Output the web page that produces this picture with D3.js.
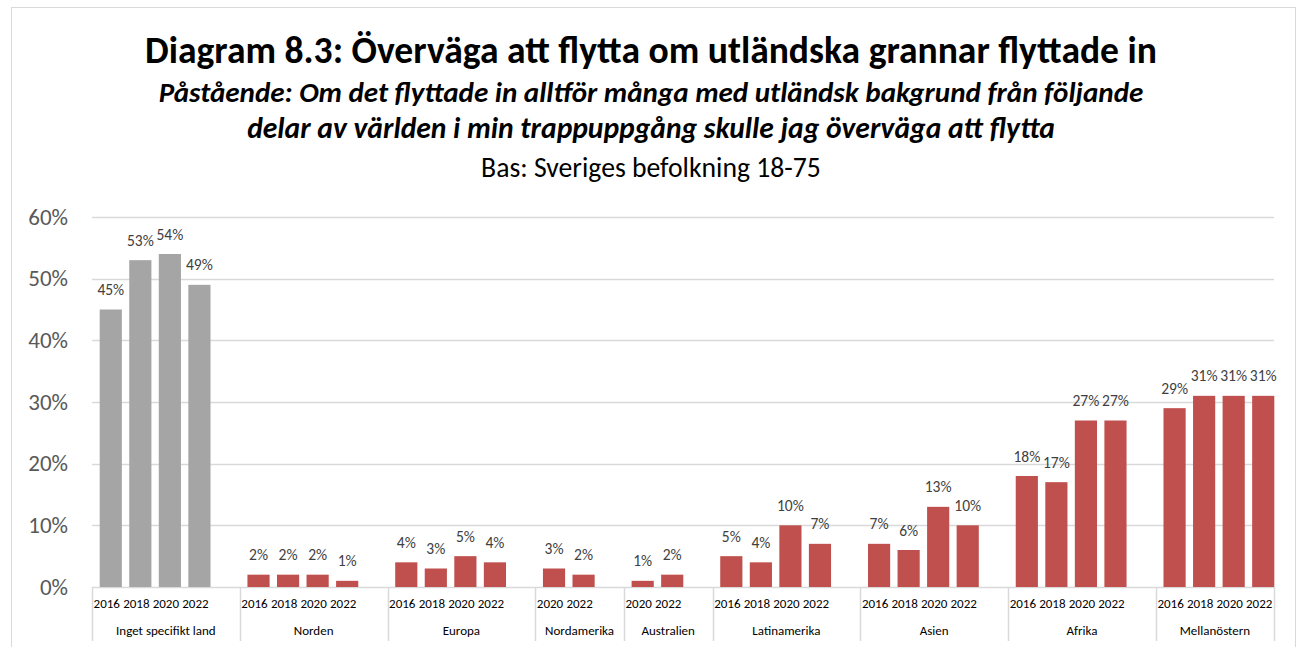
<!doctype html>
<html>
  <head>
    <meta charset="utf-8">
    <title>Diagram 8.3</title>
    <script type="text/javascript" src="https://cdn.jsdelivr.net/npm/d3@7"></script>
    <style>
      body { margin: 0; background: #fff; }
      text { font-family: Carlito, Calibri, Lato, sans-serif; }
    </style>
  </head>
  <body>
    <script>
      // data
      const groups = ['Inget specifikt land', 'Norden', 'Europa', 'Nordamerika', 'Australien',
                      'Latinamerika', 'Asien', 'Afrika', 'Mellanöstern'];
      const years = [
        ['2016', '2018', '2020', '2022'],
        ['2016', '2018', '2020', '2022'],
        ['2016', '2018', '2020', '2022'],
        ['2020', '2022'],
        ['2020', '2022'],
        ['2016', '2018', '2020', '2022'],
        ['2016', '2018', '2020', '2022'],
        ['2016', '2018', '2020', '2022'],
        ['2016', '2018', '2020', '2022']
      ];
      const values = [
        [45, 53, 54, 49],
        [2, 2, 2, 1],
        [4, 3, 5, 4],
        [3, 2],
        [1, 2],
        [5, 4, 10, 7],
        [7, 6, 13, 10],
        [18, 17, 27, 27],
        [29, 31, 31, 31]
      ];
      const yTicks = [0, 10, 20, 30, 40, 50, 60];

      const titleLines = [
        { text: 'Diagram 8.3: Överväga att flytta om utländska grannar flyttade in', y: 63, width: 1012, weight: 'bold', style: 'normal' },
        { text: 'Påstående: Om det flyttade in alltför många med utländsk bakgrund från följande', y: 102, width: 985, weight: 'bold', style: 'italic' },
        { text: 'delar av världen i min trappuppgång skulle jag överväga att flytta', y: 138, width: 808, weight: 'bold', style: 'italic' },
        { text: 'Bas: Sveriges befolkning 18-75', y: 177, width: 340, weight: 'normal', style: 'normal' }
      ];

      const svgWidth = 1303;
      const svgHeight = 647;
      const plotLeft = 92, plotRight = 1274, plotTop = 217, plotBottom = 587;
      const barShift = 4;

      const svg = d3.select('body').append('svg')
          .attr('width', svgWidth)
          .attr('height', svgHeight);

      // outer frame
      svg.append('rect')
          .attr('x', 11.5).attr('y', 7.5)
          .attr('width', 1284).attr('height', 700)
          .attr('fill', 'none')
          .attr('stroke', '#d9d9d9');

      // titles, sized to the width they take in the original
      titleLines.forEach(t => {
        const el = svg.append('text')
            .attr('x', 651).attr('y', t.y)
            .attr('text-anchor', 'middle')
            .attr('font-weight', t.weight)
            .attr('font-style', t.style)
            .attr('font-size', 30)
            .attr('fill', '#000')
            .text(t.text);
        const w = el.node().getComputedTextLength();
        el.attr('font-size', 30 * t.width / w);
      });

      // one slot per bar, and an empty slot after every group but the last
      const slots = [];
      groups.forEach((g, i) => {
        years[i].forEach(y => slots.push(i + '-' + y));
        if (i < groups.length - 1) slots.push(i + '-blank');
      });

      const xScale = d3.scaleBand()
          .domain(slots)
          .range([plotLeft, plotRight])
          .paddingInner(0.25)
          .paddingOuter(0.125);

      const yScale = d3.scaleLinear()
          .domain([0, 60])
          .range([plotBottom, plotTop]);

      const step = xScale.step();
      const slotStart = k => xScale(k) - step * 0.125;
      const slotCenter = k => xScale(k) + xScale.bandwidth() / 2;

      // gridlines
      svg.append('g')
        .selectAll('line')
        .data(yTicks)
        .enter().append('line')
          .attr('x1', plotLeft).attr('x2', plotRight)
          .attr('y1', d => Math.round(yScale(d)) + 0.5)
          .attr('y2', d => Math.round(yScale(d)) + 0.5)
          .attr('stroke', '#d9d9d9')
          .attr('stroke-width', 1.5);

      // y labels
      svg.append('g')
        .selectAll('text')
        .data(yTicks)
        .enter().append('text')
          .attr('x', 68)
          .attr('y', d => yScale(d) + 7.5)
          .attr('text-anchor', 'end')
          .attr('font-size', 23)
          .attr('fill', '#595959')
          .text(d => d + '%');

      // bars
      const bars = [];
      groups.forEach((g, i) => {
        years[i].forEach((y, j) => bars.push({ key: i + '-' + y, value: values[i][j], group: i }));
      });

      svg.append('g')
        .selectAll('rect')
        .data(bars)
        .enter().append('rect')
          .attr('x', d => xScale(d.key) + barShift)
          .attr('y', d => yScale(d.value))
          .attr('width', xScale.bandwidth())
          .attr('height', d => yScale(0) - yScale(d.value))
          .attr('fill', d => d.group === 0 ? '#a5a5a5' : '#c0504d');

      svg.append('g')
        .selectAll('text')
        .data(bars)
        .enter().append('text')
          .attr('x', d => slotCenter(d.key) + barShift)
          .attr('y', d => yScale(d.value) - 14.5)
          .attr('text-anchor', 'middle')
          .attr('font-size', 15.5)
          .attr('fill', '#404040')
          .text(d => d.value + '%');

      // category axis
      const axis = svg.append('g');
      const boundaries = groups.map((g, i) => slotStart(i + '-' + years[i][0]));
      boundaries.push(plotRight);

      axis.selectAll('line')
        .data(boundaries)
        .enter().append('line')
          .attr('x1', d => Math.round(d) + 0.5).attr('x2', d => Math.round(d) + 0.5)
          .attr('y1', plotBottom).attr('y2', 641)
          .attr('stroke', '#d9d9d9')
          .attr('stroke-width', 1.5);

      axis.selectAll('text.year')
        .data(bars)
        .enter().append('text')
          .attr('class', 'year')
          .attr('x', d => slotCenter(d.key))
          .attr('y', 608)
          .attr('text-anchor', 'middle')
          .attr('font-size', 13)
          .attr('fill', '#000')
          .text(d => d.key.split('-')[1]);

      axis.selectAll('text.group')
        .data(groups)
        .enter().append('text')
          .attr('class', 'group')
          .attr('x', (d, i) => (boundaries[i] + boundaries[i + 1]) / 2)
          .attr('y', 635)
          .attr('text-anchor', 'middle')
          .attr('font-size', 13)
          .attr('fill', '#000')
          .text(d => d);
    </script>
  </body>
</html>
